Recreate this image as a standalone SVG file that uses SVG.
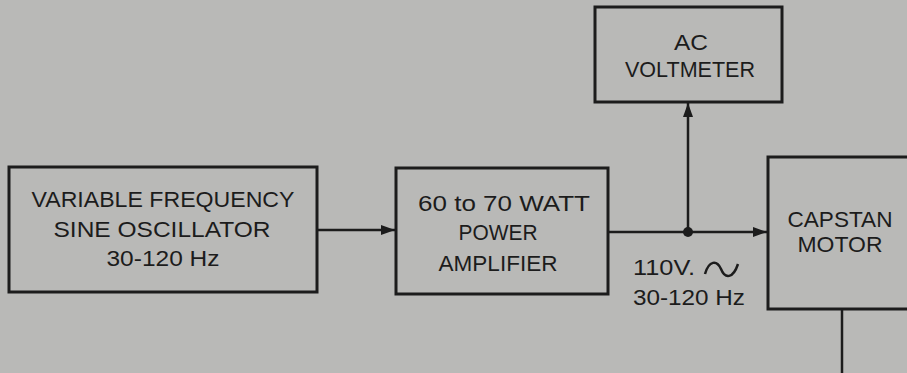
<svg xmlns="http://www.w3.org/2000/svg" width="907" height="373" viewBox="0 0 907 373">
<style>
.box{fill:none;stroke:#1c1c1c;stroke-width:3}
.ln{fill:none;stroke:#1c1c1c;stroke-width:2.5}
text{font-family:"Liberation Sans","DejaVu Sans",sans-serif;font-size:22px;fill:#1c1c1c;text-anchor:middle}
.l{text-anchor:start}
</style>
<defs>
<marker id="ah" markerWidth="14" markerHeight="10" refX="14" refY="5" orient="auto" markerUnits="userSpaceOnUse">
<path d="M0,0 L14,5 L0,10 Z" fill="#1c1c1c"/>
</marker>
</defs>
<rect width="907" height="373" fill="#b9b9b7"/>
<g id="oscillator">
<rect class="box" x="9" y="167" width="308" height="125"/>
<text x="163" y="207" textLength="263" lengthAdjust="spacingAndGlyphs">VARIABLE FREQUENCY</text>
<text x="162" y="237" textLength="217" lengthAdjust="spacingAndGlyphs">SINE OSCILLATOR</text>
<text x="163" y="266" textLength="113" lengthAdjust="spacingAndGlyphs">30-120 Hz</text>
</g>
<g id="amplifier">
<rect class="box" x="396" y="168" width="212" height="126"/>
<text x="504" y="211" textLength="172" lengthAdjust="spacingAndGlyphs">60 to 70 WATT</text>
<text x="498" y="240" textLength="79" lengthAdjust="spacingAndGlyphs">POWER</text>
<text x="498" y="271" textLength="119" lengthAdjust="spacingAndGlyphs">AMPLIFIER</text>
</g>
<g id="voltmeter">
<rect class="box" x="595" y="7" width="187" height="95"/>
<text x="691" y="50" textLength="34" lengthAdjust="spacingAndGlyphs">AC</text>
<text x="690" y="77" textLength="130" lengthAdjust="spacingAndGlyphs">VOLTMETER</text>
</g>
<g id="motor">
<rect class="box" x="768" y="157" width="160" height="152"/>
<text x="840" y="227" textLength="105" lengthAdjust="spacingAndGlyphs">CAPSTAN</text>
<text x="840" y="252" textLength="85" lengthAdjust="spacingAndGlyphs">MOTOR</text>
</g>
<g id="connectors">
<line class="ln" x1="317" y1="230" x2="395" y2="230" marker-end="url(#ah)"/>
<line class="ln" x1="608" y1="232" x2="767" y2="232" marker-end="url(#ah)"/>
<line class="ln" x1="688" y1="232" x2="688" y2="103" marker-end="url(#ah)"/>
<circle cx="688" cy="232" r="5" fill="#1c1c1c"/>
<line class="ln" x1="842" y1="309" x2="842" y2="373"/>
</g>
<g id="label">
<text class="l" x="633" y="275" textLength="62" lengthAdjust="spacingAndGlyphs">110V.</text>
<path d="M705,274 C709,260 717,260 721,269 C725,279 733,279 738,264" fill="none" stroke="#1c1c1c" stroke-width="2.5"/>
<text class="l" x="633" y="305" textLength="112" lengthAdjust="spacingAndGlyphs">30-120 Hz</text>
</g>
</svg>
